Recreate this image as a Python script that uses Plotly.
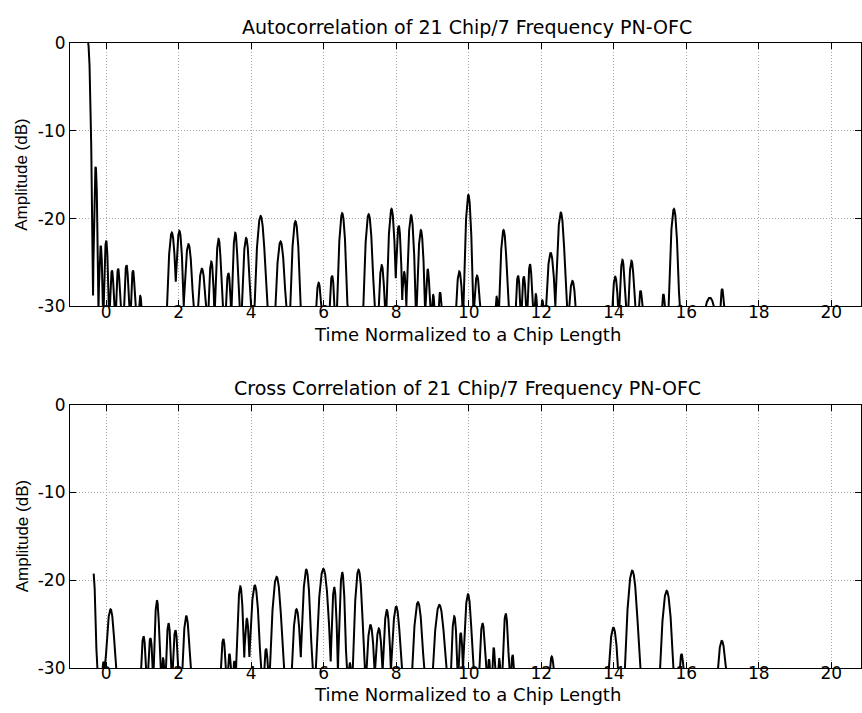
import numpy as np
import plotly.graph_objects as go

# ---------------- data ----------------
# each lobe: centre time (chips), peak level (dB), base width at -30 dB (chips)
auto_t = [-0.50, -0.29, -0.15, 0.00, 0.16, 0.33, 0.56, 0.74, 0.94,
          1.81, 2.02, 2.27, 2.64, 2.90, 3.10, 3.37, 3.56, 3.86,
          4.26, 4.81, 5.22, 5.86, 6.23, 6.51, 7.24, 7.60, 7.87, 8.07, 8.22, 8.41, 8.68, 8.87, 9.02, 9.21,
          9.74, 9.99, 10.23, 10.77, 10.96, 11.36, 11.52, 11.69, 11.85, 12.03, 12.26, 12.54, 12.86,
          14.04, 14.24, 14.49, 14.74, 15.37, 15.66, 16.65, 16.99]
auto_db = [0.0, -14.1, -23.1, -22.5, -25.9, -25.7, -25.3, -25.9, -28.8,
           -21.6, -21.4, -22.9, -25.7, -24.9, -22.3, -26.2, -21.6, -22.2,
           -19.7, -22.6, -20.3, -27.3, -26.5, -19.4, -19.5, -25.3, -18.9, -20.8, -26.1, -19.6, -21.3, -25.8, -28.7, -28.4,
           -26.0, -17.3, -26.5, -28.9, -21.3, -26.5, -26.6, -25.2, -28.6, -29.3, -23.9, -19.3, -27.1,
           -26.6, -24.7, -24.8, -28.2, -28.6, -18.9, -29.0, -28.0]
auto_w = [0.28, 0.15, 0.12, 0.14, 0.12, 0.12, 0.14, 0.12, 0.07,
          0.27, 0.24, 0.26, 0.22, 0.16, 0.20, 0.14, 0.20, 0.24,
          0.34, 0.29, 0.29, 0.14, 0.14, 0.29, 0.30, 0.17, 0.28, 0.20, 0.12, 0.26, 0.23, 0.12, 0.07, 0.08,
          0.18, 0.27, 0.16, 0.06, 0.25, 0.13, 0.12, 0.14, 0.07, 0.06, 0.26, 0.30, 0.18,
          0.16, 0.17, 0.18, 0.10, 0.08, 0.30, 0.23, 0.10]
auto_start = -0.50

cross_t = [-0.36, -0.08, -0.02, 0.12,
           1.03, 1.22, 1.40, 1.57, 1.72, 1.91, 2.21,
           3.23, 3.40, 3.54, 3.70, 3.88, 4.10, 4.41, 4.70, 5.25, 5.52, 5.99, 6.29, 6.51, 6.72, 6.96,
           7.29, 7.52, 7.74, 8.00, 8.60, 9.19, 9.60, 9.78, 9.98, 10.38, 10.56, 10.69, 10.84, 11.02, 11.21,
           12.29, 13.99, 14.51, 15.46, 15.87, 16.98]
cross_db = [-19.0, -29.3, -29.5, -23.3,
            -26.4, -26.6, -22.3, -28.9, -24.9, -25.7, -24.1,
            -26.7, -28.4, -29.2, -20.7, -24.4, -20.6, -27.8, -19.6, -23.3, -18.8, -18.7, -20.8, -19.1, -29.4, -18.8,
            -25.1, -25.5, -23.4, -23.0, -22.5, -22.8, -24.1, -26.0, -21.6, -24.9, -29.0, -27.7, -28.9, -23.8, -28.5,
            -28.7, -25.4, -18.9, -21.2, -28.4, -26.9]
cross_w = [0.20, 0.05, 0.04, 0.28,
           0.14, 0.13, 0.18, 0.06, 0.15, 0.15, 0.22,
           0.14, 0.08, 0.06, 0.23, 0.16, 0.32, 0.10, 0.37, 0.26, 0.32, 0.42, 0.20, 0.23, 0.05, 0.32,
           0.22, 0.20, 0.22, 0.28, 0.32, 0.36, 0.18, 0.12, 0.27, 0.18, 0.05, 0.08, 0.05, 0.18, 0.07,
           0.10, 0.26, 0.41, 0.37, 0.10, 0.22]
cross_start = -0.345

x_ticks = [0, 2, 4, 6, 8, 10, 12, 14, 16, 18, 20]
y_ticks = [-30, -20, -10, 0]

title_auto = "Autocorrelation of 21 Chip/7 Frequency PN-OFC"
title_cross = "Cross Correlation of 21 Chip/7 Frequency PN-OFC"
x_label = "Time Normalized to a Chip Length"
y_label = "Amplitude (dB)"


def lobe_curve(centers, peaks, widths, start, stop=18.0, step=0.002, floor=-32.0):
    t = np.arange(start, stop, step)
    y = np.full_like(t, -60.0)
    for c, p, w in zip(centers, peaks, widths):
        u = (t - c) / (w / 2.0)
        lobe = p - (p + 30.0) * u ** 2
        m = np.abs(u) <= 1.4
        y[m] = np.maximum(y[m], lobe[m])
    y = np.maximum(y, floor)
    return t, y


ta, ya = lobe_curve(auto_t, auto_db, auto_w, auto_start)
tc, yc = lobe_curve(cross_t, cross_db, cross_w, cross_start)

W, H = 862, 713
fig = go.Figure()
fig.add_trace(go.Scatter(x=ta, y=ya, mode="lines", line=dict(color="black", width=2),
                         xaxis="x", yaxis="y", showlegend=False, hoverinfo="skip"))
fig.add_trace(go.Scatter(x=tc, y=yc, mode="lines", line=dict(color="black", width=2),
                         xaxis="x2", yaxis="y2", showlegend=False, hoverinfo="skip"))

tickfont = dict(family="DejaVu Sans", size=17, color="black")
x_dom = [70 / W, 1.0]
top_dom = [1 - 305 / H, 1 - 34 / H]
bot_dom = [1 - 677 / H, 1 - 406 / H]

grid = dict(showgrid=True, gridcolor="#a8a8a8", griddash="1px,2px", gridwidth=1)
xcommon = dict(range=[-1, 20.82], tickvals=x_ticks, ticktext=[str(v) for v in x_ticks],
               showline=True, linecolor="black", linewidth=1, mirror="ticks",
               ticks="inside", ticklen=6, tickcolor="black", tickfont=tickfont,
               ticklabelstandoff=-10,
               zeroline=False, domain=x_dom, fixedrange=True, **grid)
ycommon = dict(range=[-30, 0], tickvals=y_ticks, ticktext=[str(v) for v in y_ticks],
               showline=True, linecolor="black", linewidth=1, mirror="ticks",
               ticks="inside", ticklen=6, tickcolor="black", tickfont=tickfont,
               zeroline=False, fixedrange=True, **grid)

fig.update_layout(
    width=W, height=H,
    margin=dict(l=0, r=0, t=0, b=0),
    paper_bgcolor="white", plot_bgcolor="white",
    xaxis=dict(xcommon, anchor="y"),
    yaxis=dict(ycommon, anchor="x", domain=top_dom),
    xaxis2=dict(xcommon, anchor="y2"),
    yaxis2=dict(ycommon, anchor="x2", domain=bot_dom),
)

tfont = dict(family="DejaVu Sans", size=19, color="black")
xlfont = dict(family="DejaVu Sans", size=18, color="black")
lfont = dict(family="Liberation Sans", size=17, color="black")
cx = 468 / W
ann = [
    dict(text=title_auto, x=cx, y=1 - 17 / H, font=tfont),
    dict(text=x_label, x=cx, y=1 - 334 / H, font=xlfont),
    dict(text=title_cross, x=cx, y=1 - 389 / H, font=tfont),
    dict(text=x_label, x=cx, y=1 - 704.5 / H, font=xlfont),
    dict(text=y_label, x=22 / W, y=1 - 169.5 / H, font=lfont, textangle=-90),
    dict(text=y_label, x=22 / W, y=1 - 541.5 / H, font=lfont, textangle=-90),
]
for a in ann:
    fig.add_annotation(xref="paper", yref="paper", showarrow=False,
                       xanchor="center", yanchor="middle", **a)

fig.write_html("out.html")
